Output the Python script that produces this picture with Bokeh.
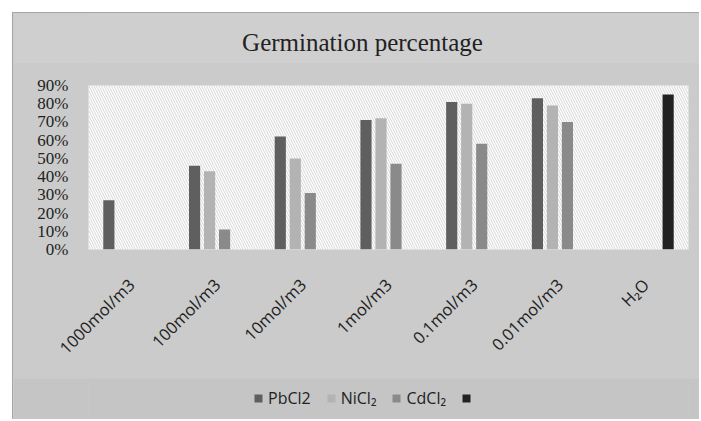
import math
import numpy as np
from bokeh.plotting import figure
from bokeh.layouts import column
from bokeh.models import (FactorRange, Range1d, FixedTicker, NumeralTickFormatter,
                          BoxAnnotation, Legend, LegendItem, ColumnDataSource, Label)
from bokeh.transform import dodge
from bokeh.embed import file_html
from bokeh.resources import INLINE

# ---- data ----
categories = ["1000mol/m3", "100mol/m3", "10mol/m3", "1mol/m3",
              "0.1mol/m3", "0.01mol/m3", "H₂O"]
pbcl2 = [0.27, 0.46, 0.62, 0.71, 0.81, 0.83, 0.0]
nicl2 = [0.0, 0.43, 0.50, 0.72, 0.80, 0.79, 0.0]
cdcl2 = [0.0, 0.11, 0.31, 0.47, 0.58, 0.70, 0.0]
h2o = [0.0, 0.0, 0.0, 0.0, 0.0, 0.0, 0.85]
series_labels = ["PbCl2", "NiCl₂", "CdCl₂", " "]
y_ticks = [0.0, 0.1, 0.2, 0.3, 0.4, 0.5, 0.6, 0.7, 0.8, 0.9]
title_text = "Germination percentage"

colors = ["#5f5f5f", "#b3b3b3", "#8a8a8a", "#222222"]
cols = ["pb", "ni", "cd", "h2o"]
offsets = [-0.2625, -0.0875, 0.0875, 0.2625]
bar_w = 0.13
BG = "#cbcbcb"
W = 686
ML, MR = 75, 11

src = ColumnDataSource(dict(cat=categories, pb=pbcl2, ni=nicl2, cd=cdcl2, h2o=h2o))
xr = FactorRange(*categories, range_padding=0)


def strip(h, fill):
    f = figure(width=W, height=h, x_range=xr, y_range=Range1d(1, 2),
               x_axis_type=None, y_axis_type=None, output_backend="svg",
               toolbar_location=None, min_border_left=ML, min_border_right=MR,
               min_border_top=0, min_border_bottom=0)
    f.border_fill_color = fill
    f.background_fill_color = fill
    f.outline_line_color = None
    f.grid.visible = False
    return f


# ---- title strip ----
pt = strip(50, "#cfcfcf")
pt.add_layout(Label(x=274, y=21, x_units="screen", y_units="screen", text=title_text,
                    text_align="center", text_baseline="middle",
                    text_font="Liberation Serif", text_font_size="25px",
                    text_color="#222222"))

# ---- main chart ----
p = figure(width=W, height=315, x_range=xr,
           y_range=Range1d(0, 0.9), output_backend="svg", toolbar_location=None,
           min_border_left=ML, min_border_right=MR, min_border_top=22, min_border_bottom=129)

p.border_fill_color = BG
p.background_fill_color = "white"
p.outline_line_color = "#d6d6d6"

p.add_layout(BoxAnnotation(fill_color="white", fill_alpha=1, line_color=None,
                           hatch_pattern="\\", hatch_color="#d6d6d6", hatch_scale=5,
                           hatch_weight=1, level="underlay"))

for col, off, c in zip(cols, offsets, colors):
    p.vbar(x=dodge("cat", off, range=xr), top=col, width=bar_w, source=src,
           fill_color=c, line_color=None)

p.ygrid.ticker = FixedTicker(ticks=y_ticks)
p.ygrid.grid_line_color = "#a3a3a3"
p.ygrid.grid_line_width = 1.2
p.xgrid.ticker = FixedTicker(ticks=[1, 2, 3, 4, 5, 6])
p.xgrid.grid_line_color = "#dcdcdc"

p.yaxis.ticker = FixedTicker(ticks=y_ticks)
p.yaxis.formatter = NumeralTickFormatter(format="0%")
p.yaxis.axis_line_color = None
p.yaxis.major_tick_line_color = None
p.yaxis.minor_tick_line_color = None
p.yaxis.major_label_text_font = "Liberation Serif"
p.yaxis.major_label_text_font_size = "17px"
p.yaxis.major_label_text_color = "#222222"
p.yaxis.major_label_standoff = 14

p.xaxis.axis_line_color = None
p.xaxis.major_tick_line_color = None
p.xaxis.major_label_orientation = math.pi / 4
p.xaxis.major_label_text_font = "Open Sans"
p.xaxis.major_label_text_font_size = "16.5px"
p.xaxis.major_label_text_color = "#222222"
p.xaxis.major_label_standoff = 26

# ---- legend strip (same series, drawn outside its visible y-range) ----
pl = strip(41, "#c5c5c5")
leg_renderers = [pl.vbar(x=dodge("cat", off, range=xr), top=col, width=bar_w, source=src,
                         fill_color=c, line_color=None)
                 for col, off, c in zip(cols, offsets, colors)]
legend = Legend(items=[LegendItem(label=l, renderers=[r]) for l, r in zip(series_labels, leg_renderers)],
                orientation="horizontal", location=(165, 10),
                glyph_width=10, glyph_height=10, label_standoff=5, spacing=15,
                label_width=0,
                label_text_font="Open Sans", label_text_font_size="16px",
                label_text_color="#222222", background_fill_alpha=0,
                border_line_color=None, padding=0, margin=0)
pl.add_layout(legend, "center")

layout = column(pt, p, pl, spacing=0, margin=(12, 0, 0, 12),
                styles={"border-top": "1px solid #a6a6a6", "border-left": "1px solid #a6a6a6",
                        "background-color": BG})

open("out.html", "w").write(file_html(layout, INLINE))
